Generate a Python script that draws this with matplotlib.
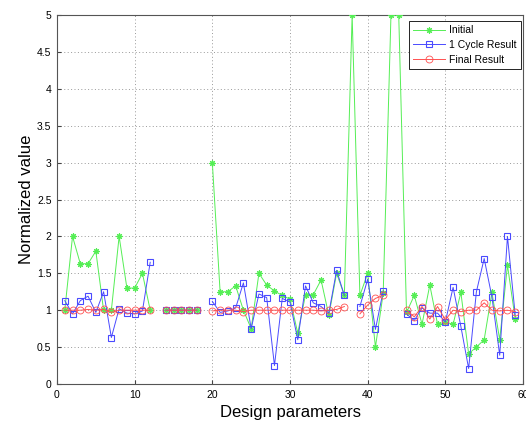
import numpy as np
import matplotlib
matplotlib.use("Agg")
import matplotlib.pyplot as plt

nan = np.nan
x = list(range(1, 60))

initial = [1.0, 2.0, 1.63, 1.63, 1.8, 1.0, 1.0, 2.0, 1.3, 1.3, 1.5, 1.0, nan,
           1.0, 1.0, 1.0, 1.0, 1.0, nan,
           3.0, 1.25, 1.25, 1.33, 1.0, 0.75, 1.5, 1.34, 1.26, 1.2, 1.15, 0.69,
           1.21, 1.21, 1.41, 0.93, 1.5, 1.2, 5.0, 1.2, 1.5, 0.5, 1.23, 5.0, 5.0,
           0.97, 1.2, 0.81, 1.34, 0.81, 0.84, 0.81, 1.24, 0.41, 0.5, 0.6, 1.24,
           0.6, 1.61, 0.88]

cycle1 = [1.13, 0.95, 1.13, 1.19, 0.97, 1.25, 0.63, 1.02, 0.96, 0.95, 0.99, 1.65, nan,
          1.0, 1.0, 1.0, 1.0, 1.0, nan,
          1.12, 0.97, 0.99, 1.03, 1.37, 0.75, 1.22, 1.17, 0.25, 1.16, 1.11, 0.6,
          1.33, 1.1, 1.05, 0.96, 1.54, 1.2, nan, 1.05, 1.42, 0.74, 1.26, nan, nan,
          0.95, 0.86, 1.03, 0.96, 0.96, 0.84, 1.31, 0.78, 0.21, 1.25, 1.70, 1.18,
          0.39, 2.0, 0.93]

final = [1.0, 1.0, 1.0, 1.01, 1.0, 1.01, 0.97, 1.0, 1.0, 1.0, 1.0, 1.0, nan,
         1.0, 1.0, 1.0, 1.0, 1.0, nan,
         0.99, 1.0, 1.0, 1.0, 0.98, 1.0, 1.0, 1.0, 1.0, 1.0, 1.0, 1.0,
         1.0, 1.0, 0.99, 1.0, 1.01, 1.05, nan, 0.95, 1.07, 1.16, 1.2, nan, nan,
         1.0, 0.91, 1.05, 0.88, 1.05, 0.87, 1.0, 0.98, 1.0, 1.0, 1.1, 1.0,
         0.99, 1.0, 0.98]

labels = ["Initial", "1 Cycle Result", "Final Result"]
xticks = [0, 10, 20, 30, 40, 50, 60]
yticks = [0, 0.5, 1, 1.5, 2, 2.5, 3, 3.5, 4, 4.5, 5]
yticklabels = ["0", "0.5", "1", "1.5", "2", "2.5", "3", "3.5", "4", "4.5", "5"]

plt.rcParams['font.family'] = ['Liberation Sans', 'DejaVu Sans']

fig = plt.figure(figsize=(5.26, 4.26), dpi=100)
ax = fig.add_axes([57/526, 1-384/426, 466/526, 369/426])

ax.plot(x, initial, color='#55ee55', lw=0.7, marker=(8, 2, 0), ms=4.5,
        mew=0.8, label=labels[0], zorder=3)
ax.plot(x, cycle1, color='#4a4aff', lw=0.7, marker='s', ms=4.3, mfc='none',
        mew=0.8, label=labels[1], zorder=4)
ax.plot(x, final, color='#ff5050', lw=0.7, marker='o', ms=5, mfc='none',
        mew=0.6, label=labels[2], zorder=5)

ax.set_xlim(0, 60)
ax.set_ylim(0, 5)
ax.set_xticks(xticks)
ax.set_yticks(yticks)
ax.set_yticklabels(yticklabels)
ax.tick_params(direction='in', length=3, labelsize=7.5, color='#444444', pad=4)
ax.grid(True, linestyle=(0, (1, 2.5)), color='#999999', lw=0.7)
for s in ax.spines.values():
    s.set_color('#555555')
    s.set_linewidth(0.8)

ax.set_xlabel("Design parameters", fontsize=12, labelpad=4)
ax.set_ylabel("Normalized value", fontsize=12, labelpad=2)

leg = ax.legend(loc='upper right', bbox_to_anchor=(521/526, 1-21/426),
                bbox_transform=fig.transFigure, borderaxespad=0,
                fontsize=7.5, handlelength=3.1, handletextpad=0.4,
                labelspacing=0.45, fancybox=False, framealpha=1,
                borderpad=0.4)
leg.get_frame().set_edgecolor('black')
leg.get_frame().set_linewidth(0.6)

fig.savefig("out.png", dpi=100)
